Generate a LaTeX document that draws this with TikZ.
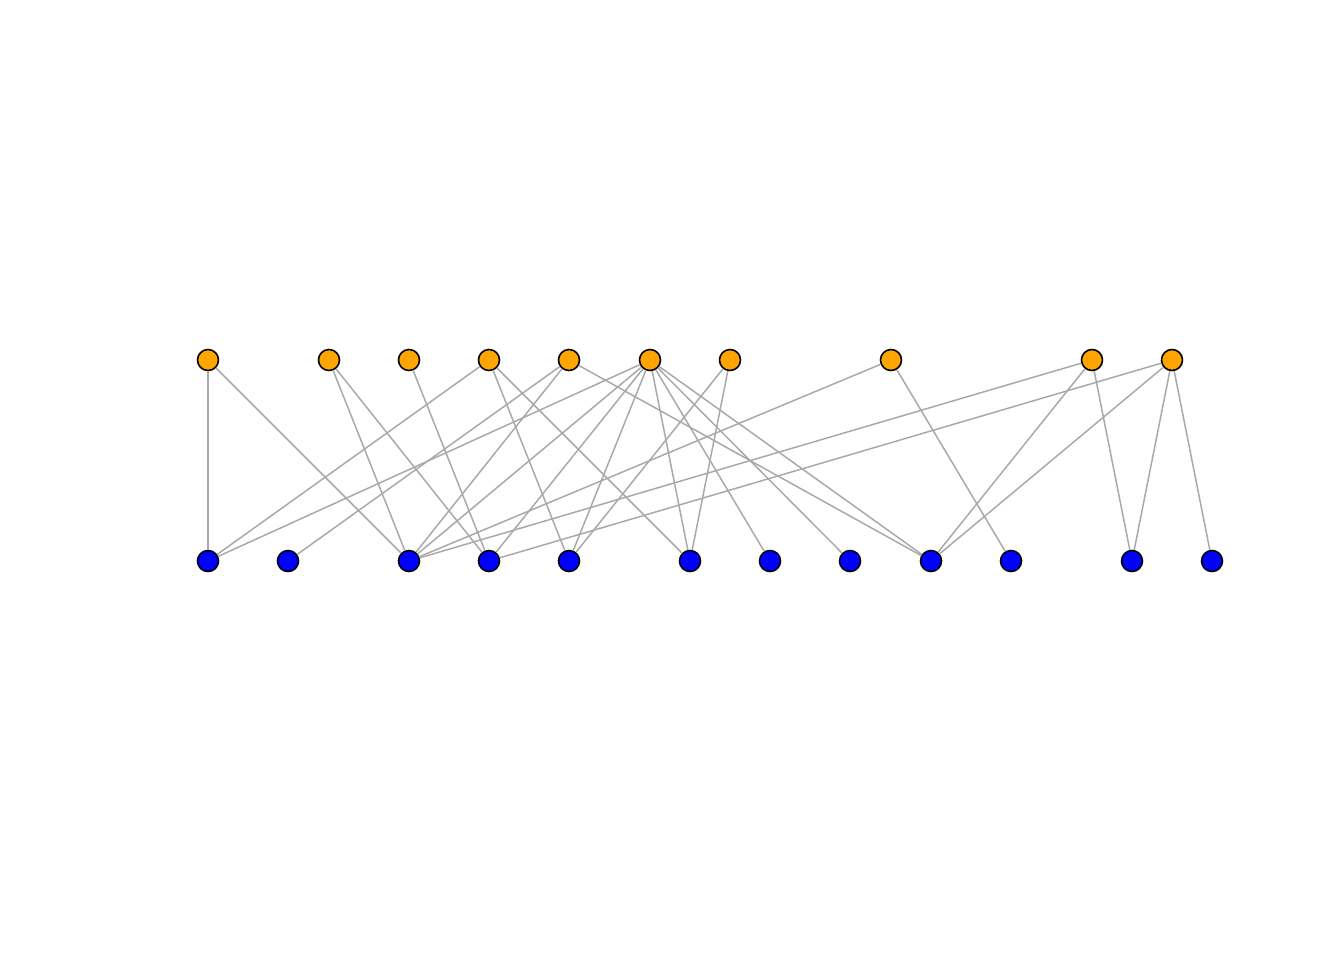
\documentclass[tikz,border=0pt]{standalone}
\usepackage{xcolor}
\usepackage{tikz}
\usetikzlibrary{positioning}

\definecolor{toporange}{HTML}{FFA500}
\definecolor{botblue}{HTML}{0000FF}
\definecolor{edgegray}{HTML}{A9A9A9}

\begin{document}
\begin{tikzpicture}[
	x=0.5pt, y=-0.5pt,
	line width=0.75pt
]
\tikzset{
    topnode/.style = {circle, draw=black, line width=0.8pt, fill=toporange, minimum size=10.5pt, inner sep=0pt},
		botnode/.style = {circle, draw=black, line width=0.8pt, fill=botblue, minimum size=10.5pt, inner sep=0pt},
		edgestyle/.style = {draw=edgegray, line width=0.75pt}
}
\useasboundingbox (0,0) rectangle (1344,960);
% top row
\node[topnode] (T1) at (208,360) {};
\node[topnode] (T2) at (329,360) {};
\node[topnode] (T3) at (409,360) {};
\node[topnode] (T4) at (489,360) {};
\node[topnode] (T5) at (569,360) {};
\node[topnode] (T6) at (650,360) {};
\node[topnode] (T7) at (730,360) {};
\node[topnode] (T8) at (891,360) {};
\node[topnode] (T9) at (1092,360) {};
\node[topnode] (T10) at (1172,360) {};
% bottom row
\node[botnode] (B1) at (208,561) {};
\node[botnode] (B2) at (288,561) {};
\node[botnode] (B3) at (409,561) {};
\node[botnode] (B4) at (489,561) {};
\node[botnode] (B5) at (569,561) {};
\node[botnode] (B6) at (690,561) {};
\node[botnode] (B7) at (770,561) {};
\node[botnode] (B8) at (850,561) {};
\node[botnode] (B9) at (931,561) {};
\node[botnode] (B10) at (1011,561) {};
\node[botnode] (B11) at (1132,561) {};
\node[botnode] (B12) at (1212,561) {};
% edges
\draw[edgestyle] (T1) -- (B1);
\draw[edgestyle] (T1) -- (B3);
\draw[edgestyle] (T2) -- (B3);
\draw[edgestyle] (T2) -- (B4);
\draw[edgestyle] (T3) -- (B4);
\draw[edgestyle] (T4) -- (B1);
\draw[edgestyle] (T4) -- (B5);
\draw[edgestyle] (T4) -- (B6);
\draw[edgestyle] (T5) -- (B2);
\draw[edgestyle] (T5) -- (B3);
\draw[edgestyle] (T5) -- (B9);
\draw[edgestyle] (T6) -- (B1);
\draw[edgestyle] (T6) -- (B3);
\draw[edgestyle] (T6) -- (B4);
\draw[edgestyle] (T6) -- (B5);
\draw[edgestyle] (T6) -- (B6);
\draw[edgestyle] (T6) -- (B7);
\draw[edgestyle] (T6) -- (B8);
\draw[edgestyle] (T6) -- (B9);
\draw[edgestyle] (T7) -- (B5);
\draw[edgestyle] (T7) -- (B6);
\draw[edgestyle] (T8) -- (B3);
\draw[edgestyle] (T8) -- (B10);
\draw[edgestyle] (T9) -- (B3);
\draw[edgestyle] (T9) -- (B9);
\draw[edgestyle] (T9) -- (B11);
\draw[edgestyle] (T10) -- (B4);
\draw[edgestyle] (T10) -- (B9);
\draw[edgestyle] (T10) -- (B11);
\draw[edgestyle] (T10) -- (B12);
\end{tikzpicture}
\end{document}
